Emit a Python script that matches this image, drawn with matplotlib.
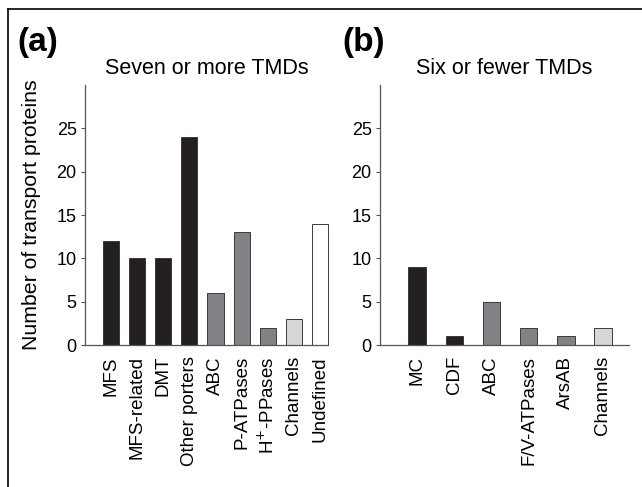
import matplotlib
matplotlib.use("Agg")
import matplotlib.pyplot as plt
from matplotlib.lines import Line2D

plt.rcParams['font.family'] = ['Liberation Sans', 'DejaVu Sans']

# panel (a): seven or more TMDs
labels_a = ['MFS', 'MFS-related', 'DMT', 'Other porters', 'ABC', 'P-ATPases',
            'H$^{+}$-PPases', 'Channels', 'Undefined']
values_a = [12, 10, 10, 24, 6, 13, 2, 3, 14]
colors_a = ['#231f20', '#231f20', '#231f20', '#231f20', '#808285', '#808285',
            '#808285', '#d6d7d9', '#ffffff']

# panel (b): six or fewer TMDs
labels_b = ['MC', 'CDF', 'ABC', 'F/V-ATPases', 'ArsAB', 'Channels']
values_b = [9, 1, 5, 2, 1, 2]
colors_b = ['#231f20', '#231f20', '#808285', '#808285', '#808285', '#d6d7d9']

W, H = 642, 487
fig = plt.figure(figsize=(W / 100, H / 100), dpi=100)

def px_axes(x0, y0, x1, y1):
    return fig.add_axes([x0 / W, 1 - y1 / H, (x1 - x0) / W, (y1 - y0) / H])

ax_a = px_axes(85, 85, 328, 345)
ax_b = px_axes(380, 85, 629, 345)

def style(ax, labels, values, colors, width, xmax, title):
    x = range(len(values))
    bars = ax.bar(x, values, width=width, color=colors, edgecolor='#3a3a3a', linewidth=0.7)
    for b in bars:
        b.set_clip_on(False)
    ax.set_xlim(-1.0, xmax)
    ax.set_ylim(0, 30)
    ax.set_yticks([0, 5, 10, 15, 20, 25])
    ax.set_xticks(list(x))
    ax.set_xticklabels(labels, rotation=90, fontsize=13.5)
    ax.tick_params(axis='x', length=0, pad=8)
    ax.tick_params(axis='y', labelsize=13, length=3, width=0.8, color='#555555', pad=3)
    for s in ['top', 'right']:
        ax.spines[s].set_visible(False)
    for s in ['left', 'bottom']:
        ax.spines[s].set_color('#555555')
        ax.spines[s].set_linewidth(0.9)
    ax.set_title(title, fontsize=15.5, pad=8)

style(ax_a, labels_a, values_a, colors_a, 0.62, 8.31, 'Seven or more TMDs')
style(ax_b, labels_b, values_b, colors_b, 0.47, 5.7, 'Six or fewer TMDs')
ax_a.set_ylabel('Number of transport proteins', fontsize=15.3, labelpad=11)

fig.text(17 / W, 1 - 42 / H, '(a)', fontsize=24, fontweight='bold', va='center')
fig.text(342 / W, 1 - 42 / H, '(b)', fontsize=24, fontweight='bold', va='center')

# frame lines (left and top)
fig.add_artist(Line2D([8 / W, 8 / W], [0, 1 - 9 / H], color='black', lw=1.2))
fig.add_artist(Line2D([8 / W, 1], [1 - 9 / H, 1 - 9 / H], color='black', lw=1.2))

fig.savefig('out.png', dpi=100)
